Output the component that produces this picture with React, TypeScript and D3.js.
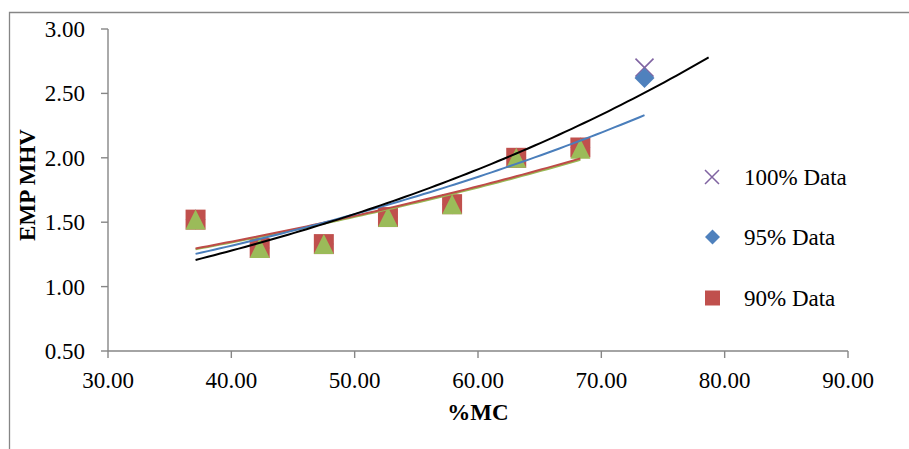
import * as d3 from 'd3'

// moisture content (%MC) for each sample
const mcValues = [37.1, 42.3, 47.5, 52.7, 57.9, 63.1, 68.3, 73.5]

// EMP MHV per data set
const data100 = [1.52, 1.30, 1.33, 1.54, 1.64, 2.00, 2.08, 2.70]
const data95 = [1.52, 1.30, 1.33, 1.54, 1.64, 2.00, 2.08, 2.62]
const data90 = [1.52, 1.30, 1.33, 1.54, 1.64, 2.00, 2.08]
const data85 = [1.52, 1.30, 1.33, 1.54, 1.64, 2.00, 2.07]

// exponential trendlines: x range and end values
const trendNames = ['100% Data', '95% Data', '90% Data', '85% Data']
const trendFrom = [37.1, 37.1, 37.1, 37.1]
const trendTo = [78.7, 73.5, 68.3, 68.3]
const trendStartVal = [1.207, 1.254, 1.296, 1.29]
const trendEndVal = [2.78, 2.331, 1.995, 1.984]
const trendColors = ['#000000', '#4A7EBB', '#BE4B48', '#98B954']

const xTicks = [30, 40, 50, 60, 70, 80, 90]
const yTicks = [0.5, 1.0, 1.5, 2.0, 2.5, 3.0]

const legendItems = ['100% Data', '95% Data', '90% Data']

const W = 909
const H = 449
const FONT = "'Liberation Serif', 'Times New Roman', Times, serif"
const AXIS = '#868686'

export default function App() {
  const x = d3.scaleLinear().domain([30, 90]).range([108, 848])
  const y = d3.scaleLinear().domain([0.5, 3.0]).range([351, 29])

  const pts = (vals: number[]) => vals.map((v, i) => ({ x: x(mcValues[i]), y: y(v) }))

  const line = d3.line<[number, number]>().x(d => x(d[0])).y(d => y(d[1]))
  const trendPath = (i: number) => {
    const x0 = trendFrom[i], x1 = trendTo[i]
    const v0 = trendStartVal[i], v1 = trendEndVal[i]
    const k = Math.log(v1 / v0) / (x1 - x0)
    const xs = d3.range(x0, x1, 0.5).concat([x1])
    return line(xs.map(xx => [xx, v0 * Math.exp(k * (xx - x0))] as [number, number]))
  }

  const square = (s: number) => d3.symbol(d3.symbolSquare, s * s)()
  const diamond = (s: number) => d3.symbol(d3.symbolSquare, (s * s) / 2)()
  const triangle = (s: number) => `M0,${-s / 2}L${s / 2},${s / 2}L${-s / 2},${s / 2}Z`
  const cross = (s: number) => {
    const h = s / 2
    return `M${-h},${-h}L${h},${h}M${h},${-h}L${-h},${h}`
  }

  const legendY = [177, 237, 298]

  return (
    <svg width={W} height={H}
      style={{ position: 'absolute', left: 0, top: 0, background: '#fff', fontFamily: FONT }}>
      {/* outer chart frame (partly cropped) */}
      <path d={`M9.5,${H}V12.5H${W}`} fill="none" stroke={AXIS} strokeWidth={1.3} />

      {/* axes */}
      <g stroke={AXIS} strokeWidth={1.4} fill="none">
        <line x1={x(30)} x2={x(90)} y1={y(0.5)} y2={y(0.5)} />
        <line x1={x(30)} x2={x(30)} y1={y(0.5)} y2={y(3.0)} />
        {xTicks.map(t => (
          <line key={t} x1={x(t)} x2={x(t)} y1={y(0.5)} y2={y(0.5) + 7} />
        ))}
        {yTicks.map(t => (
          <line key={t} x1={x(30) - 7} x2={x(30)} y1={y(t)} y2={y(t)} />
        ))}
      </g>
      <g fontSize={23} fill="#000" style={{ fontFamily: FONT }}>
        {xTicks.map(t => (
          <text key={t} x={x(t)} y={388} textAnchor="middle">{t.toFixed(2)}</text>
        ))}
        {yTicks.map(t => (
          <text key={t} x={85} y={y(t) + 8} textAnchor="end">{t.toFixed(2)}</text>
        ))}
      </g>
      <text x={478} y={420} textAnchor="middle" fontSize={23} fontWeight="bold"
        style={{ fontFamily: FONT }}>%MC</text>
      <text transform={`translate(35,185) rotate(-90)`} textAnchor="middle" fontSize={23}
        fontWeight="bold" style={{ fontFamily: FONT }}>EMP MHV</text>

      {/* markers */}
      <g stroke="#8064A2" strokeWidth={1.6} fill="none">
        {pts(data100).map((p, i) => (
          <path key={i} d={cross(18)} transform={`translate(${p.x},${p.y})`} />
        ))}
      </g>
      <g fill="#4F81BD">
        {pts(data95).map((p, i) => (
          <path key={i} d={diamond(20)} transform={`translate(${p.x},${p.y}) rotate(45)`} />
        ))}
      </g>
      <g fill="#C0504D">
        {pts(data90).map((p, i) => (
          <path key={i} d={square(20)} transform={`translate(${p.x},${p.y})`} />
        ))}
      </g>
      <g fill="#9BBB59">
        {pts(data85).map((p, i) => (
          <path key={i} d={triangle(20)} transform={`translate(${p.x},${p.y})`} />
        ))}
      </g>

      {/* trendlines */}
      <g fill="none" strokeWidth={2}>
        {[3, 2, 1, 0].map(i => (
          <path key={trendNames[i]} d={trendPath(i) || ''} stroke={trendColors[i]} />
        ))}
      </g>

      {/* legend */}
      <g fontSize={23} fill="#000" style={{ fontFamily: FONT }}>
        <path d={cross(14)} transform={`translate(712,${legendY[0]})`} stroke="#8064A2"
          strokeWidth={1.5} fill="none" />
        <path d={diamond(15)} transform={`translate(712.5,${legendY[1]}) rotate(45)`} fill="#4F81BD" />
        <path d={square(15)} transform={`translate(712.5,${legendY[2]})`} fill="#C0504D" />
        {legendItems.map((name, i) => (
          <text key={name} x={744} y={legendY[i] + 8}>{name}</text>
        ))}
      </g>
    </svg>
  )
}
